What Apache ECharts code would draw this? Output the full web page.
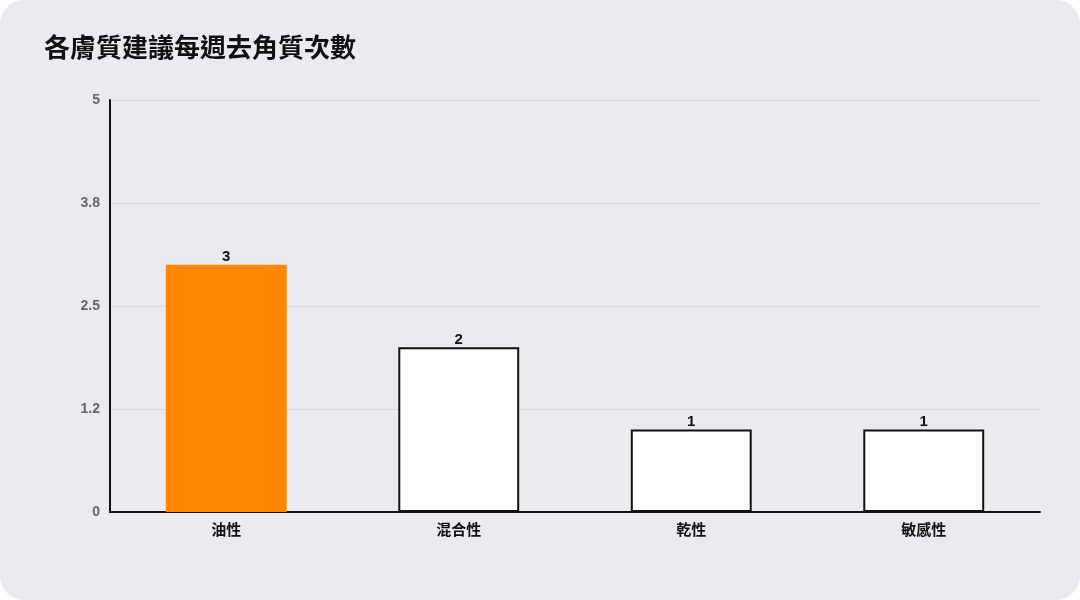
<!DOCTYPE html>
<html lang="zh-Hant">
<head>
    <meta charset="UTF-8">
    <title>各膚質建議每週去角質次數</title>
    <script src="https://cdn.jsdelivr.net/npm/echarts@6/dist/echarts.min.js"></script>
    <style>
        html, body { margin: 0; padding: 0; background: #ffffff; }
        #main { width: 1080px; height: 600px; background: #ebeaef; border-radius: 24px; overflow: hidden; }
    </style>
</head>
<body>
    <div id="main"></div>
    <script type="text/javascript">
        // 資料
        var skinTypes = ['油性', '混合性', '乾性', '敏感性'];
        var timesPerWeek = [3, 2, 1, 1];
        var barColors = ['#ff8800', '#ffffff', '#ffffff', '#ffffff'];
        var yTickLabels = ['0', '1.2', '2.5', '3.8', '5'];

        var numFont = '"Liberation Sans", Arial, sans-serif';
        var myChart = echarts.init(document.getElementById('main'));

        var option = {
            backgroundColor: 'transparent',
            textStyle: { fontFamily: '"Noto Sans CJK TC", "Noto Sans", sans-serif' },
            title: {
                text: '各膚質建議每週去角質次數',
                left: 39,
                top: 29,
                textStyle: { fontSize: 26, fontWeight: 'bold', color: '#111111' }
            },
            grid: { left: 110, right: 40, top: 100, bottom: 88 },
            xAxis: {
                type: 'category',
                data: skinTypes,
                axisLine: { lineStyle: { color: '#111111', width: 2 } },
                axisTick: { show: false },
                axisLabel: { color: '#111111', fontSize: 15, fontWeight: 'bold', margin: 10 }
            },
            yAxis: {
                type: 'value',
                min: 0,
                max: 5,
                interval: 1.25,
                axisLine: { show: true, lineStyle: { color: '#111111', width: 2 } },
                axisTick: { show: false },
                splitLine: { lineStyle: { color: '#d9d8de', width: 1 } },
                axisLabel: {
                    color: '#666666', fontSize: 14, fontWeight: 'bold', margin: 10,
                    fontFamily: numFont,
                    formatter: function (v) { return yTickLabels[Math.round(v / 1.25)]; }
                }
            },
            series: [{
                type: 'bar',
                barWidth: '52%',
                data: timesPerWeek.map(function (v, i) {
                    return {
                        value: v,
                        itemStyle: {
                            color: barColors[i],
                            borderColor: i === 0 ? barColors[i] : '#111111',
                            borderWidth: i === 0 ? 0 : 2
                        }
                    };
                }),
                label: {
                    show: true,
                    position: 'top',
                    distance: 0,
                    color: '#111111',
                    fontSize: 15,
                    fontWeight: 'bold',
                    fontFamily: numFont
                }
            }]
        };
        myChart.setOption(option);
    </script>
</body>
</html>
